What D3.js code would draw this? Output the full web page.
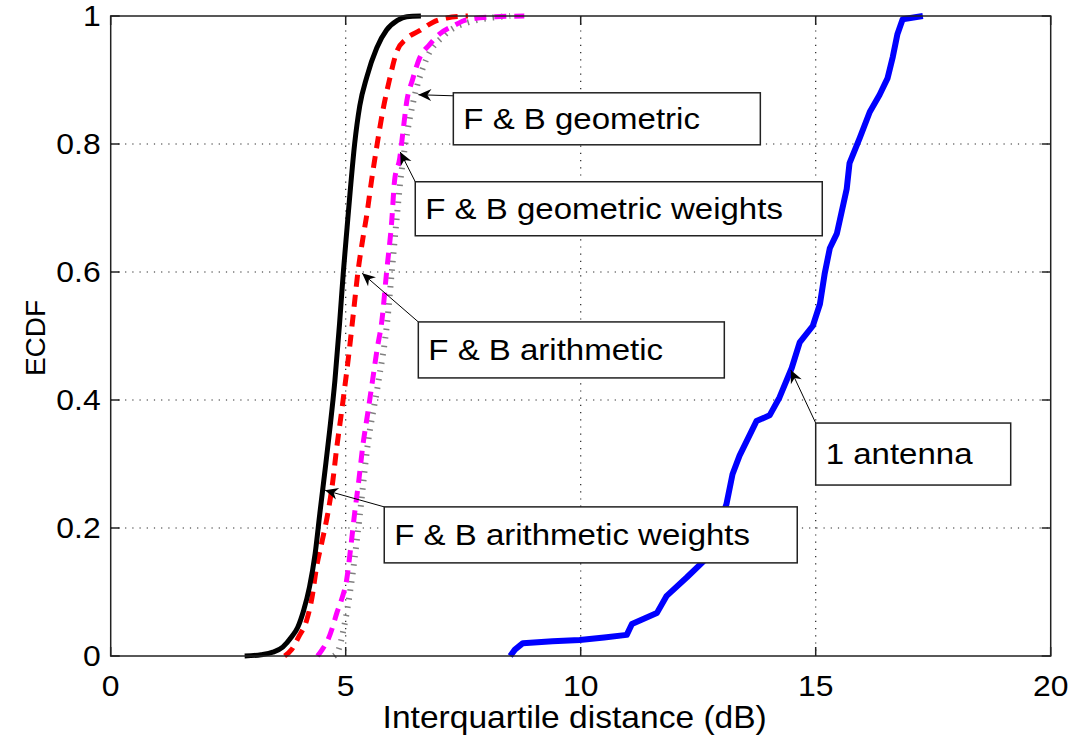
<html>
<head>
<title>ECDF interquartile distance</title>
<script src="https://d3js.org/d3.v7.min.js"></script>
<style>
body { margin: 0; background: #fff; }
svg { display: block; }
text { font-family: 'Liberation Sans', Arial, Helvetica, sans-serif; fill: #000; }
</style>
</head>
<body>
<svg id="chart" width="1074" height="741"></svg>
<script>
// ---- data (x in dB, y = ECDF) ----
var arithWeights = [[2.85,0],[3.2,0.002],[3.45,0.006],[3.66,0.014],[3.85,0.03],[3.98,0.045],[4.1,0.07],[4.23,0.108],[4.35,0.16],[4.45,0.223],[4.56,0.29],[4.66,0.353],[4.77,0.43],[4.87,0.52],[4.95,0.6],[5.03,0.67],[5.1,0.73],[5.19,0.8],[5.3,0.86],[5.45,0.905],[5.66,0.95],[5.87,0.978],[6.1,0.993],[6.3,0.999],[6.6,1]];
var arith = [[3.7,0],[3.85,0.01],[4.0,0.03],[4.17,0.056],[4.28,0.09],[4.38,0.139],[4.5,0.18],[4.62,0.223],[4.72,0.27],[4.81,0.326],[4.9,0.375],[4.98,0.42],[5.08,0.48],[5.17,0.54],[5.26,0.6],[5.36,0.65],[5.45,0.69],[5.55,0.743],[5.67,0.8],[5.79,0.852],[5.93,0.9],[6.09,0.945],[6.3,0.965],[6.57,0.977],[6.85,0.99],[7.15,0.997],[7.6,1]];
var geomWeights = [[4.4,0],[4.5,0.01],[4.62,0.025],[4.72,0.045],[4.81,0.067],[4.92,0.09],[5.02,0.119],[5.1,0.165],[5.19,0.223],[5.28,0.275],[5.36,0.326],[5.47,0.38],[5.57,0.43],[5.67,0.48],[5.77,0.524],[5.87,0.6],[5.98,0.68],[6.04,0.743],[6.15,0.778],[6.22,0.82],[6.3,0.867],[6.42,0.9],[6.57,0.934],[6.78,0.955],[7.0,0.972],[7.3,0.985],[7.57,0.994],[8.2,0.999],[8.8,1]];
var geom = [[4.75,0],[4.85,0.01],[4.95,0.04],[5.05,0.08],[5.15,0.13],[5.3,0.22],[5.45,0.32],[5.7,0.43],[5.88,0.52],[5.98,0.6],[6.08,0.68],[6.16,0.74],[6.27,0.8],[6.45,0.87],[6.7,0.93],[7.1,0.97],[7.6,0.99],[8.5,1]];
var oneAntenna = [[8.5,0],[8.6,0.01],[8.77,0.02],[9.4,0.023],[9.98,0.025],[10.5,0.029],[10.98,0.033],[11.09,0.05],[11.62,0.067],[11.83,0.094],[12.26,0.123],[12.6,0.147],[12.81,0.176],[13.1,0.237],[13.23,0.284],[13.38,0.313],[13.74,0.367],[14.02,0.376],[14.23,0.404],[14.49,0.45],[14.66,0.49],[14.94,0.516],[15.09,0.55],[15.19,0.597],[15.3,0.637],[15.45,0.66],[15.66,0.73],[15.72,0.77],[15.94,0.81],[16.15,0.85],[16.36,0.877],[16.53,0.903],[16.64,0.936],[16.74,0.972],[16.85,0.995],[17.28,1]];

var xTicks = [0, 5, 10, 15, 20];
var yTicks = [0, 0.2, 0.4, 0.6, 0.8, 1];
var yTickLabels = ["0", "0.2", "0.4", "0.6", "0.8", "1"];

var labels = ["F & B geometric", "F & B geometric weights", "F & B arithmetic", "F & B arithmetic weights", "1 antenna"];
var arrowHeads = [[6.545,0.877],[6.16,0.7875],[5.35,0.598],[4.56,0.259],[14.47,0.447]];
var boxCorners = [[7.29,0.880],[6.48,0.741],[6.545,0.522],[5.82,0.233],[15.0,0.364]];

// ---- layout ----
var svg = d3.select("#chart");
var pLeft = 110.7, pRight = 1050.7, pTop = 16, pBottom = 656;
var stretch = 1.1;

var x = d3.scaleLinear().domain([0, 20]).range([pLeft, pRight]);
var y = d3.scaleLinear().domain([0, 1]).range([pBottom, pTop]);

svg.append("rect").attr("width", 1074).attr("height", 741).attr("fill", "#fff");

// dotted grid
xTicks.slice(1, -1).forEach(function (t) {
	svg.append("line")
	.attr("x1", x(t)).attr("x2", x(t))
	.attr("y1", pTop).attr("y2", pBottom)
	.style("stroke", "#222").style("stroke-width", 1.2)
	.style("stroke-dasharray", "1.2,6");
});
yTicks.slice(1, -1).forEach(function (t) {
	svg.append("line")
	.attr("x1", pLeft).attr("x2", pRight)
	.attr("y1", y(t)).attr("y2", y(t))
	.style("stroke", "#222").style("stroke-width", 1.2)
	.style("stroke-dasharray", "1.2,6");
});

// curves
var line = d3.line().x(function (d) { return x(d[0]); }).y(function (d) { return y(d[1]); });
var smooth = d3.line().x(function (d) { return x(d[0]); }).y(function (d) { return y(d[1]); }).curve(d3.curveMonotoneX);

svg.append("path").datum(geom).attr("d", smooth)
.style("fill", "none").style("stroke", "#808080").style("stroke-width", 6).style("stroke-dasharray", "1.5,7");
svg.append("path").datum(geomWeights).attr("d", smooth)
.style("fill", "none").style("stroke", "#ff00ff").style("stroke-width", 5).style("stroke-dasharray", "12,8");
svg.append("path").datum(arith).attr("d", smooth)
.style("fill", "none").style("stroke", "#ff0000").style("stroke-width", 5).style("stroke-dasharray", "12,8");
svg.append("path").datum(arithWeights).attr("d", smooth)
.style("fill", "none").style("stroke", "#000").style("stroke-width", 5);
svg.append("path").datum(oneAntenna).attr("d", line)
.style("fill", "none").style("stroke", "#0000ff").style("stroke-width", 6).style("stroke-linejoin", "round");

// frame and inward ticks
svg.append("rect").attr("x", pLeft).attr("y", pTop).attr("width", pRight - pLeft).attr("height", pBottom - pTop)
.style("fill", "none").style("stroke", "#222").style("stroke-width", 1.5);

var tickLen = 9;
xTicks.forEach(function (t) {
	svg.append("line").attr("x1", x(t)).attr("x2", x(t)).attr("y1", pBottom).attr("y2", pBottom - tickLen).style("stroke", "#222").style("stroke-width", 1.5);
	svg.append("line").attr("x1", x(t)).attr("x2", x(t)).attr("y1", pTop).attr("y2", pTop + tickLen).style("stroke", "#222").style("stroke-width", 1.5);
	var tx = svg.append("text").text(t).attr("x", x(t)).attr("y", pBottom + 40)
	.attr("text-anchor", "middle").attr("font-size", 29);
	fit(tx);
});
yTicks.forEach(function (t, i) {
	svg.append("line").attr("x1", pLeft).attr("x2", pLeft + tickLen).attr("y1", y(t)).attr("y2", y(t)).style("stroke", "#222").style("stroke-width", 1.5);
	svg.append("line").attr("x1", pRight).attr("x2", pRight - tickLen).attr("y1", y(t)).attr("y2", y(t)).style("stroke", "#222").style("stroke-width", 1.5);
	var ty = svg.append("text").text(yTickLabels[i]).attr("x", pLeft - 10).attr("y", y(t) + 10)
	.attr("text-anchor", "end").attr("font-size", 29);
	fit(ty);
});

var xl = svg.append("text").text("Interquartile distance (dB)")
.attr("x", (pLeft + pRight) / 2 - 6).attr("y", 728).attr("text-anchor", "middle").attr("font-size", 30.5);
fit(xl);
svg.append("text").text("ECDF")
.attr("transform", "translate(45," + ((pTop + pBottom) / 2 + 2) + ") rotate(-90)")
.attr("text-anchor", "middle").attr("font-size", 28);

// text arrows
var boxSizes = [[307, 52], [407, 54], [306, 56], [413, 56], [195, 62]];
labels.forEach(function (lab, i) {
	var hx = x(arrowHeads[i][0]), hy = y(arrowHeads[i][1]);
	var bx = x(boxCorners[i][0]), by = y(boxCorners[i][1]);
	var tx = bx, ty = by + (i == 0 ? 3 : 0);
	svg.append("line").attr("x1", tx).attr("y1", ty).attr("x2", hx).attr("y2", hy)
	.style("stroke", "#000").style("stroke-width", 1);
	var ang = Math.atan2(hy - ty, hx - tx) * 180 / Math.PI;
	svg.append("path").attr("d", "M0,0 L-13,-6 L-9,0 L-13,6 Z")
	.attr("transform", "translate(" + hx + "," + hy + ") rotate(" + ang + ")")
	.style("fill", "#000");
	svg.append("rect").attr("x", bx).attr("y", by).attr("width", boxSizes[i][0]).attr("height", boxSizes[i][1])
	.style("fill", "#fff").style("stroke", "#222").style("stroke-width", 1.5);
	var t = svg.append("text").text(lab).attr("x", bx + 10).attr("y", by + boxSizes[i][1] / 2 + 10)
	.attr("font-size", 30);
	fit(t);
});

function fit(sel) {
	var w = sel.node().getComputedTextLength();
	sel.attr("textLength", w * stretch).attr("lengthAdjust", "spacingAndGlyphs");
}
</script>
</body>
</html>
